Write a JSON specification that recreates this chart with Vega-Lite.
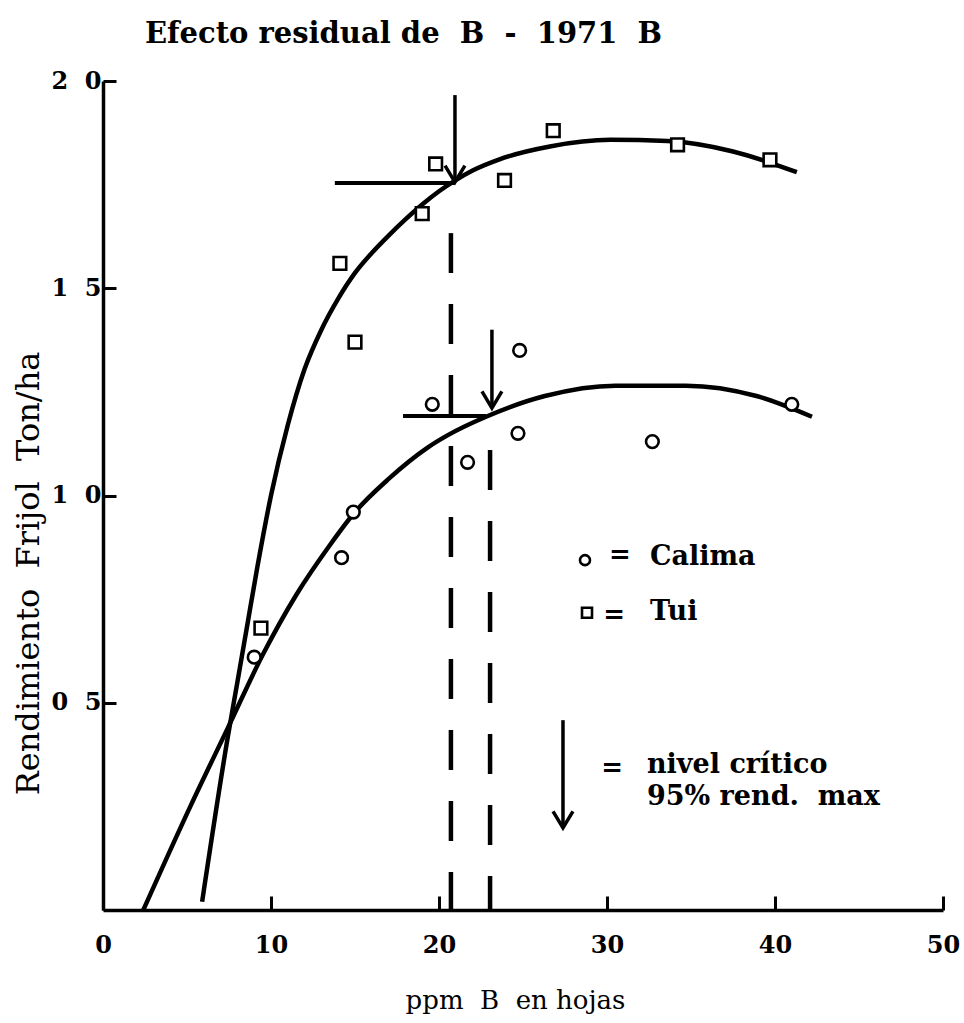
{
  "$schema": "https://vega.github.io/schema/vega-lite/v6.json",
  "width": 840,
  "height": 829,
  "autosize": {"type": "none"},
  "padding": {"left": 103, "top": 81, "right": 21, "bottom": 113},
  "background": "white",
  "config": {
    "view": {"stroke": null},
    "font": "DejaVu Serif",
    "axis": {"domainColor": "black", "tickColor": "black", "labelColor": "black", "titleColor": "black", "grid": false, "labelFont": "DejaVu Serif", "titleFont": "DejaVu Serif"}
  },
  "title": {
    "text": "Efecto residual de\u00a0\u00a0B\u00a0\u00a0-\u00a0\u00a01971\u00a0\u00a0B",
    "anchor": "start",
    "frame": "group",
    "dx": 42,
    "offset": 20,
    "fontSize": 29,
    "font": "DejaVu Serif",
    "fontWeight": "bold",
    "color": "black"
  },
  "datasets": {
    "pts": [
      {"v": "Tui", "x": 9.4, "y": 0.68},
      {"v": "Tui", "x": 14.1, "y": 1.56},
      {"v": "Tui", "x": 15.0, "y": 1.37},
      {"v": "Tui", "x": 19.0, "y": 1.68},
      {"v": "Tui", "x": 19.8, "y": 1.8},
      {"v": "Tui", "x": 23.9, "y": 1.76},
      {"v": "Tui", "x": 26.8, "y": 1.88},
      {"v": "Tui", "x": 34.2, "y": 1.846},
      {"v": "Tui", "x": 39.7, "y": 1.81},
      {"v": "Calima", "x": 9.0, "y": 0.61},
      {"v": "Calima", "x": 14.2, "y": 0.85},
      {"v": "Calima", "x": 14.9, "y": 0.96},
      {"v": "Calima", "x": 19.6, "y": 1.22},
      {"v": "Calima", "x": 21.7, "y": 1.08},
      {"v": "Calima", "x": 24.7, "y": 1.15},
      {"v": "Calima", "x": 24.8, "y": 1.35},
      {"v": "Calima", "x": 32.7, "y": 1.13},
      {"v": "Calima", "x": 41.0, "y": 1.22}
    ],
    "legsym": [
      {"v": "Calima", "x": 28.69, "y": 0.844},
      {"v": "Tui", "x": 28.81, "y": 0.717}
    ],
    "curves": [
      {"s": "Tui", "x": 5.9, "y": 0.02},
      {"s": "Tui", "x": 7.44, "y": 0.42},
      {"s": "Tui", "x": 8.0, "y": 0.55},
      {"s": "Tui", "x": 8.6, "y": 0.69},
      {"s": "Tui", "x": 9.2, "y": 0.83},
      {"s": "Tui", "x": 10.0, "y": 1.0},
      {"s": "Tui", "x": 11.0, "y": 1.17},
      {"s": "Tui", "x": 12.0, "y": 1.305},
      {"s": "Tui", "x": 13.0, "y": 1.4},
      {"s": "Tui", "x": 14.0, "y": 1.475},
      {"s": "Tui", "x": 15.0, "y": 1.537},
      {"s": "Tui", "x": 16.0, "y": 1.585},
      {"s": "Tui", "x": 17.0, "y": 1.627},
      {"s": "Tui", "x": 18.0, "y": 1.666},
      {"s": "Tui", "x": 19.0, "y": 1.702},
      {"s": "Tui", "x": 20.0, "y": 1.734},
      {"s": "Tui", "x": 21.0, "y": 1.761},
      {"s": "Tui", "x": 22.0, "y": 1.784},
      {"s": "Tui", "x": 23.6, "y": 1.811},
      {"s": "Tui", "x": 26.6, "y": 1.842},
      {"s": "Tui", "x": 30.2, "y": 1.858},
      {"s": "Tui", "x": 33.6, "y": 1.855},
      {"s": "Tui", "x": 37.5, "y": 1.83},
      {"s": "Tui", "x": 41.3, "y": 1.78},
      {"s": "Calima", "x": 2.4, "y": 0.0},
      {"s": "Calima", "x": 5.2, "y": 0.25},
      {"s": "Calima", "x": 7.44, "y": 0.44},
      {"s": "Calima", "x": 9.5, "y": 0.615},
      {"s": "Calima", "x": 11.5, "y": 0.76},
      {"s": "Calima", "x": 13.5, "y": 0.88},
      {"s": "Calima", "x": 15.0, "y": 0.96},
      {"s": "Calima", "x": 17.0, "y": 1.04},
      {"s": "Calima", "x": 19.3, "y": 1.115},
      {"s": "Calima", "x": 20.5, "y": 1.145},
      {"s": "Calima", "x": 22.8, "y": 1.19},
      {"s": "Calima", "x": 26.3, "y": 1.24},
      {"s": "Calima", "x": 30.5, "y": 1.265},
      {"s": "Calima", "x": 34.7, "y": 1.265},
      {"s": "Calima", "x": 38.9, "y": 1.24},
      {"s": "Calima", "x": 42.2, "y": 1.19}
    ],
    "hrules": [
      {"x": 13.8, "x2": 20.95, "y": 1.754},
      {"x": 17.86, "x2": 22.8, "y": 1.192}
    ],
    "vrules": [
      {"x": 20.95, "y": 1.966, "y2": 1.765},
      {"x": 23.15, "y": 1.4, "y2": 1.215},
      {"x": 27.38, "y": 0.458, "y2": 0.202}
    ],
    "dashes": [
      {"x": 20.71, "y": 1.633, "y2": 0},
      {"x": 23.04, "y": 1.11, "y2": 0}
    ],
    "heads": [
      {"x": 20.95, "y": 1.756},
      {"x": 23.15, "y": 1.211},
      {"x": 27.38, "y": 0.198}
    ],
    "eq": [
      {"x": 30.77, "y": 0.856, "t": "="},
      {"x": 30.42, "y": 0.712, "t": "="},
      {"x": 30.3, "y": 0.343, "t": "="}
    ],
    "texts": [
      {"x": 32.56, "y": 0.852, "t": "Calima"},
      {"x": 32.56, "y": 0.719, "t": "Tui"},
      {"x": 32.38, "y": 0.35, "t": "nivel crítico"},
      {"x": 32.38, "y": 0.273, "t": "95% rend.\u00a0\u00a0max"}
    ]
  },
  "encoding": {
    "x": {
      "field": "x",
      "type": "quantitative",
      "scale": {"domain": [0, 50], "nice": false, "zero": false},
      "axis": {
        "values": [0, 10, 20, 30, 40, 50],
        "format": "d",
        "tickSize": -14,
        "tickWidth": 3,
        "domainWidth": 3.5,
        "labelFontSize": 24,
        "labelFontWeight": "bold",
        "labelPadding": 37,
        "labelFlush": false,
        "title": "ppm\u00a0\u00a0B\u00a0\u00a0en hojas",
        "titleFontSize": 26,
        "titleFontWeight": "normal",
        "titleX": 412,
        "titleY": 90,
        "titleBaseline": "middle"
      }
    },
    "y": {
      "field": "y",
      "type": "quantitative",
      "scale": {"domain": [0, 2], "nice": false, "zero": false},
      "axis": {
        "values": [0.5, 1, 1.5, 2],
        "labelExpr": "replace(format(datum.value, '.1f'), '.', '\u00a0\u00a0')",
        "tickSize": -13,
        "tickWidth": 3,
        "domainWidth": 3.5,
        "labelFontSize": 24,
        "labelFontWeight": "bold",
        "labelPadding": 15,
        "labelFlush": false,
        "title": "Rendimiento\u00a0\u00a0Frijol\u00a0\u00a0Ton/ha",
        "titleFontSize": 32,
        "titleFontWeight": "normal",
        "titleX": -75,
        "titleY": 492,
        "titleBaseline": "middle",
        "titleAngle": 270
      }
    }
  },
  "layer": [
    {
      "data": {"name": "curves"},
      "mark": {"type": "line", "interpolate": "monotone", "strokeWidth": 4.5, "color": "black"},
      "encoding": {"detail": {"field": "s"}}
    },
    {
      "data": {"name": "hrules"},
      "mark": {"type": "rule", "strokeWidth": 4, "color": "black"},
      "encoding": {"x2": {"field": "x2"}}
    },
    {
      "data": {"name": "vrules"},
      "mark": {"type": "rule", "strokeWidth": 3.5, "color": "black"},
      "encoding": {"y2": {"field": "y2"}}
    },
    {
      "data": {"name": "dashes"},
      "mark": {"type": "rule", "strokeWidth": 4.5, "color": "black", "strokeDash": [40, 31]},
      "encoding": {"y2": {"field": "y2"}}
    },
    {
      "data": {"name": "heads"},
      "mark": {"type": "point", "shape": "M-0.6,-1L0,0L0.6,-1", "size": 1100, "filled": false, "stroke": "black", "strokeWidth": 3.5, "opacity": 1},
      "encoding": {}
    },
    {
      "data": {"name": "pts"},
      "mark": {"type": "point", "filled": true, "fill": "white", "stroke": "black", "strokeWidth": 2.6, "size": 160, "opacity": 1},
      "encoding": {
        "shape": {"field": "v", "type": "nominal", "scale": {"domain": ["Calima", "Tui"], "range": ["circle", "square"]}, "legend": null}
      }
    },
    {
      "data": {"name": "legsym"},
      "mark": {"type": "point", "filled": true, "fill": "white", "stroke": "black", "strokeWidth": 2.6, "size": 100, "opacity": 1},
      "encoding": {
        "shape": {"field": "v", "type": "nominal", "scale": {"domain": ["Calima", "Tui"], "range": ["circle", "square"]}, "legend": null}
      }
    },
    {
      "data": {"name": "eq"},
      "mark": {"type": "text", "align": "center", "baseline": "middle", "fontSize": 26, "fontWeight": "bold", "font": "DejaVu Serif", "color": "black"},
      "encoding": {"text": {"field": "t"}}
    },
    {
      "data": {"name": "texts"},
      "mark": {"type": "text", "align": "left", "baseline": "middle", "fontSize": 27, "fontWeight": "bold", "font": "DejaVu Serif", "color": "black"},
      "encoding": {"text": {"field": "t"}}
    }
  ]
}
